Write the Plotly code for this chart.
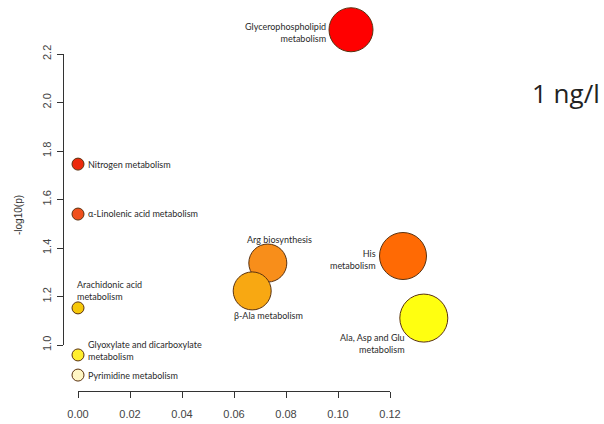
import plotly.graph_objects as go

# Pathway enrichment results (impact vs significance)
pathways = [
    "Glycerophospholipid<br>metabolism",
    "Nitrogen metabolism",
    "α-Linolenic acid metabolism",
    "Arachidonic acid<br>metabolism",
    "Glyoxylate and dicarboxylate<br>metabolism",
    "Pyrimidine metabolism",
    "Arg biosynthesis",
    "β-Ala metabolism",
    "His<br>metabolism",
    "Ala, Asp and Glu<br>metabolism",
]
impact = [0.105, 0.0, 0.0, 0.0, 0.0, 0.0, 0.073, 0.067, 0.125, 0.133]
neglogp = [2.30, 1.746, 1.54, 1.153, 0.959, 0.876, 1.338, 1.223, 1.367, 1.111]

x_ticks = [0.00, 0.02, 0.04, 0.06, 0.08, 0.10, 0.12]
y_ticks = [1.0, 1.2, 1.4, 1.6, 1.8, 2.0, 2.2]

# Marker styling
bubble_px = [44, 12, 12, 12, 12, 12, 38, 38, 47, 48]
fill = ["#FF0000", "#EC2A0C", "#F0501C", "#F6C80A", "#FFEE2E", "#FFF6C4",
        "#F88E1A", "#F8A812", "#FF6A04", "#FFFF10"]

# Label placement: (xanchor, align, xshift, yshift)
label_pos = [
    ("right", "right", -23, -3),
    ("left", "left", 8, 0),
    ("left", "left", 8, 1),
    ("left", "left", -3, 17),
    ("left", "left", 8, 4),
    ("left", "left", 8, 0),
    ("center", "center", 12, 24),
    ("center", "center", 16, -25),
    ("right", "right", -25, -3),
    ("right", "right", -17, -25),
]

W, H = 604, 424

# Displayed axes span only the tick range (base-graphics style); the data
# layer uses a second full-canvas axis pair with the identical scale so
# bubbles outside the tick range are still drawn.
X0_PX, X1_PX = 78, 390      # pixel position of x = 0.00 and x = 0.12
Y0_PX, Y1_PX = 345, 54      # pixel position of y = 1.0 and y = 2.2
x_lo, x_hi = x_ticks[0], x_ticks[-1]
y_lo, y_hi = y_ticks[0], y_ticks[-1]
px_per_x = (X1_PX - X0_PX) / (x_hi - x_lo)
px_per_y = (Y0_PX - Y1_PX) / (y_hi - y_lo)
full_x = [x_lo - X0_PX / px_per_x, x_lo + (W - X0_PX) / px_per_x]
full_y = [y_hi - (H - Y1_PX) / px_per_y, y_hi + Y1_PX / px_per_y]

fig = go.Figure()
# invisible anchor trace for the displayed axes
fig.add_trace(go.Scatter(x=[x_lo], y=[y_lo], mode="markers", opacity=0,
                         hoverinfo="skip", showlegend=False))
fig.add_trace(go.Scatter(
    x=impact, y=neglogp, mode="markers", xaxis="x2", yaxis="y2",
    marker=dict(size=bubble_px, color=fill, opacity=1,
                line=dict(color="#5A3210", width=1)),
    cliponaxis=False, hoverinfo="skip", showlegend=False,
))

label_font = dict(family="Lato, Liberation Sans, sans-serif", size=9, color="#2A2A2A")
for name, xv, yv, (xa, al, xs, ys) in zip(pathways, impact, neglogp, label_pos):
    fig.add_annotation(x=xv, y=yv, xref="x2", yref="y2", text=name,
                       showarrow=False, xanchor=xa, yanchor="middle", align=al,
                       xshift=xs, yshift=ys, font=label_font)

fig.add_annotation(x=18 / W, y=1 - 215 / H, xref="paper", yref="paper",
                   text="-log10(p)", textangle=-90, showarrow=False,
                   xanchor="center", yanchor="middle",
                   font=dict(family="Liberation Sans, Arial, sans-serif", size=10, color="#333333"))

fig.add_annotation(x=566 / W, y=1 - 93 / H, xref="paper", yref="paper",
                   text="1 ng/l", showarrow=False, xanchor="center", yanchor="middle",
                   font=dict(family="Open Sans, sans-serif", size=26, color="#222222"))

axis_font = dict(family="Liberation Sans, Arial, sans-serif", size=11, color="#444444")
fig.update_layout(
    width=W, height=H,
    margin=dict(l=0, r=0, t=0, b=0, autoexpand=False),
    paper_bgcolor="white", plot_bgcolor="rgba(0,0,0,0)",
    xaxis=dict(
        domain=[X0_PX / W, X1_PX / W], range=[x_lo, x_hi],
        tickvals=x_ticks, ticktext=[f"{v:.2f}" for v in x_ticks],
        anchor="free", position=1 - 391 / H, automargin=False,
        showline=True, linecolor="#333333", linewidth=1,
        ticks="outside", ticklen=6, tickcolor="#333333", ticklabelstandoff=7,
        showgrid=False, zeroline=False, tickfont=axis_font, fixedrange=True,
    ),
    yaxis=dict(
        domain=[1 - Y0_PX / H, 1 - Y1_PX / H], range=[y_lo, y_hi],
        tickvals=y_ticks, ticktext=[f"{v:.1f}" for v in y_ticks],
        anchor="free", position=63 / W, tickangle=-90, automargin=False,
        showline=True, linecolor="#333333", linewidth=1,
        ticks="outside", ticklen=6, tickcolor="#333333", ticklabelstandoff=2,
        showgrid=False, zeroline=False, tickfont=axis_font, fixedrange=True,
    ),
    xaxis2=dict(domain=[0, 1], range=full_x, anchor="y2",
                visible=False, automargin=False, fixedrange=True),
    yaxis2=dict(domain=[0, 1], range=full_y, anchor="x2",
                visible=False, automargin=False, fixedrange=True),
)

fig.write_html("out.html")
